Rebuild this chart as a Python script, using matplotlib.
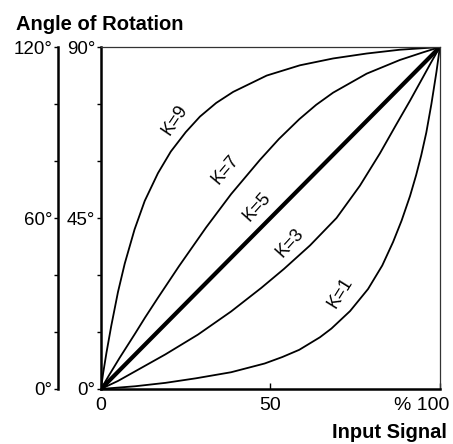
import numpy as np
import matplotlib
matplotlib.use("Agg")
import matplotlib.pyplot as plt
import matplotlib.transforms as mtransforms

plt.rcParams['font.family'] = ['Liberation Sans', 'DejaVu Sans']

# input signal in %, angle of rotation in degrees
k9_x = [0, 0.6, 1.6, 3, 5, 7, 9.9, 12.9, 16.8, 20.6, 25, 29.2, 34, 39, 48.9, 58.7, 68.5, 78.4, 88.2, 100]
k9_y = [0, 4, 9.5, 16.5, 25.5, 33, 42, 49.5, 56.8, 62.5, 67.6, 71.7, 75.3, 78.2, 82.5, 85.2, 87, 88.3, 89.3, 90]

k7_x = [0, 2.5, 5.5, 10, 13, 16.8, 23, 31, 38.4, 46.9, 52.5, 58.5, 63.5, 68.5, 78.4, 88.2, 95, 100]
k7_y = [0, 3.8, 8.2, 14.5, 18.8, 24, 32.3, 42.5, 51.3, 60.3, 65.8, 71, 74.8, 78, 83, 86.6, 88.6, 90]

k5_x = [0, 100]
k5_y = [0, 90]

k3_x = [0, 5, 9, 19, 28.6, 38.4, 47.3, 54, 61.7, 69.5, 76.4, 82.3, 87, 91.2, 95.1, 97.5, 100]
k3_y = [0, 2.1, 4.1, 9.1, 14.3, 20.4, 26.6, 31.6, 37.8, 45, 53.5, 62, 69.4, 75.9, 82.2, 86.1, 90]

k1_x = [0, 10, 19, 28, 38.4, 48.3, 53.5, 58.5, 64.6, 68, 73.5, 78.8, 83, 86.2, 88.7, 91.2, 93, 94.5, 96, 97.5, 99, 100]
k1_y = [0, 0.7, 1.6, 2.8, 4.4, 6.7, 8.4, 10.3, 13.6, 15.9, 20.5, 26.3, 32.5, 38.7, 44.3, 50.8, 56.3, 61.5, 67.5, 75, 83.5, 90]

labels = ["K=9", "K=7", "K=5", "K=3", "K=1"]
label_x = [21.8, 36.6, 45.9, 55.7, 70.5]
label_y = [70.8, 57.6, 48, 38.4, 25.2]
label_rot = [56, 50, 48, 48, 58]

fig = plt.figure(figsize=(4.53, 4.44), dpi=100)
ax = fig.add_axes([0.223, 0.124, 0.748, 0.770])

ax.plot(k9_x, k9_y, color="black", lw=1.3, solid_joinstyle="round")
ax.plot(k7_x, k7_y, color="black", lw=1.3, solid_joinstyle="round")
ax.plot(k5_x, k5_y, color="black", lw=3.0)
ax.plot(k3_x, k3_y, color="black", lw=1.3, solid_joinstyle="round")
ax.plot(k1_x, k1_y, color="black", lw=1.3, solid_joinstyle="round")

for t, x, y, r in zip(labels, label_x, label_y, label_rot):
    ax.text(x, y, t, rotation=r, ha="center", va="center", fontsize=13,
            rotation_mode="anchor")

ax.set_xlim(0, 100)
ax.set_ylim(0, 90)

for s in ["left", "bottom"]:
    ax.spines[s].set_linewidth(1.8)
for s in ["top", "right"]:
    ax.spines[s].set_linewidth(0.9)
    ax.spines[s].set_color("#333333")

# inner scale 0..90 deg
ax.set_yticks([0, 45, 90])
ax.set_yticklabels(["0°", "45°", "90°"])
ax.set_yticks([15, 30, 60, 75], minor=True)
ax.tick_params(axis="y", which="both", direction="out", length=3, width=1,
               labelsize=13.5, pad=1)

ax.set_xticks([0, 50, 100])
ax.set_xticklabels(["0", "50", "% 100"])
ax.tick_params(axis="x", direction="in", length=4, width=1, labelsize=14, pad=6)
lab = ax.get_xticklabels()[2]
lab.set_ha("right")
lab.set_transform(lab.get_transform() + mtransforms.ScaledTranslation(7 / 72, 0, fig.dpi_scale_trans))

# outer scale 0..120 deg
sec = ax.secondary_yaxis(-0.127, functions=(lambda y: y * 4 / 3, lambda y: y * 3 / 4))
sec.spines["left"].set_linewidth(1.8)
sec.set_yticks([0, 60, 120])
sec.set_yticklabels(["0°", "60°", "120°"])
sec.set_yticks([20, 40, 80, 100], minor=True)
sec.tick_params(axis="y", which="both", direction="out", length=3, width=1,
                labelsize=13.5, pad=1)

fig.text(16 / 453, 1 - 30 / 444, "Angle of Rotation", fontsize=14.5,
         fontweight="bold", ha="left", va="baseline")
fig.text(447 / 453, 1 - 438 / 444, "Input Signal", fontsize=14.5,
         fontweight="bold", ha="right", va="baseline")

fig.savefig("out.png", dpi=100)
